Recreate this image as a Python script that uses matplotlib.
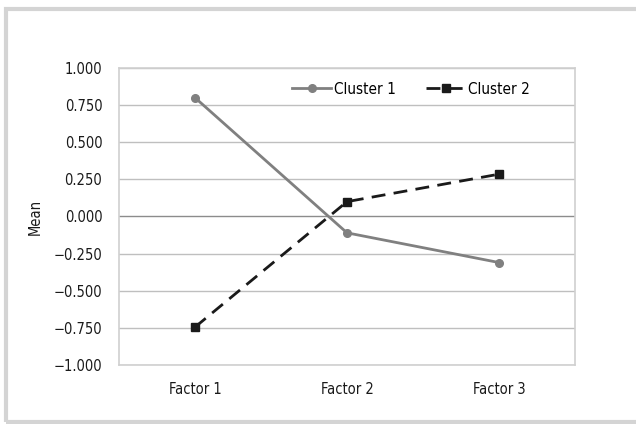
import matplotlib.pyplot as plt
from matplotlib.patches import Rectangle
from matplotlib import font_manager

nombres = set(f.name for f in font_manager.fontManager.ttflist)
if 'Liberation Sans Narrow' in nombres:
    plt.rcParams['font.family'] = ['Liberation Sans Narrow', 'DejaVu Sans']
else:
    plt.rcParams['font.family'] = ['DejaVu Sans']
    plt.rcParams['font.stretch'] = 'condensed'

factores = ['Factor 1', 'Factor 2', 'Factor 3']
cluster1 = [0.80, -0.11, -0.31]
cluster2 = [-0.745, 0.10, 0.285]
yticks = [1.0, 0.75, 0.5, 0.25, 0.0, -0.25, -0.5, -0.75, -1.0]
ytick_labels = ['1.000', '0.750', '0.500', '0.250', '0.000',
                '\u22120.250', '\u22120.500', '\u22120.750', '\u22121.000']

fig = plt.figure(figsize=(6.36, 4.24), dpi=100)
ax = fig.add_axes([119/636, 1-365/424, 456/636, 297/424])

# marco gris exterior
fig.patches.append(Rectangle((5.5/636, 1-421.5/424), 1, (421.5-8.5)/424,
                             transform=fig.transFigure, fill=False,
                             edgecolor='#d4d4d4', linewidth=3, zorder=0))

x = list(range(len(factores)))
ax.plot(x, cluster1, color='#808080', linewidth=2, marker='o', markersize=5.5,
        label='Cluster 1', zorder=3)
ax.plot(x, cluster2, color='#1a1a1a', linewidth=2, linestyle=(0, (5, 3)),
        marker='s', markersize=5.5, label='Cluster 2', zorder=3)

ax.set_xlim(-0.5, 2.5)
ax.set_ylim(-1.0, 1.0)
ax.set_xticks(x)
ax.set_xticklabels(factores)
ax.set_yticks(yticks)
ax.set_yticklabels(ytick_labels)
ax.tick_params(length=0, labelsize=10.5, colors='#1a1a1a', pad=12)
ax.tick_params(axis='x', pad=12)
for v in yticks:
    if v == 0.0:
        ax.axhline(v, color='#8c8c8c', linewidth=1, zorder=1)
    else:
        ax.axhline(v, color='#bfbfbf', linewidth=1, zorder=1)
for s in ax.spines.values():
    s.set_color('#d0d0d0')
    s.set_linewidth(1.2)
ax.set_ylabel('Mean', fontsize=10.5, color='#1a1a1a', labelpad=8)

ax.legend(loc='upper center', bbox_to_anchor=(0.64, 1.0), ncol=2,
          frameon=False, fontsize=11, handlelength=2.6, columnspacing=2.0,
          handletextpad=0.15)

fig.savefig('out.png', dpi=100)
